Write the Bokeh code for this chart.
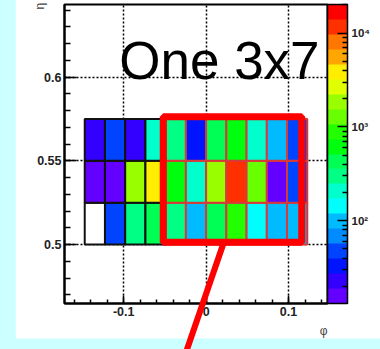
import math
import colorsys
import numpy as np
from bokeh.plotting import figure
from bokeh.models import (ColumnDataSource, LogColorMapper, ColorBar, FixedTicker,
                          CustomJSTickFormatter, Label, BoxAnnotation, Range1d)
from bokeh.embed import file_html
from bokeh.resources import INLINE

# ---------------- data ----------------
PHI_BIN_W = 2 * math.pi / 256          # phi bin width
phi_bin_index = [-6, -5, -4, -3, -2, -1, 0, 1, 2, 3, 4]   # low edge = index * width
eta_low = [0.500, 0.525, 0.550]        # eta row low edges
ETA_W = 0.025

counts_eta_0500 = [np.nan, 48, 295, 420, 300, 99, 440, 890, 140, 97, 100]
counts_eta_0525 = [16, 15, 1850, 3900, 620, 205, 1900, 11600, 1300, 16, 47]
counts_eta_0550 = [23, 46, 22, 210, 300, 33, 430, 615, 205, 98, 48]

x_ticks = [-0.1, 0.0, 0.1]
y_ticks = [0.5, 0.55, 0.6]
z_ticks = [100, 1000, 10000]
Z_LOW, Z_HIGH = 13.1, 20200.0
N_LEVELS = 20
INSIDE_BOX_FIRST_COL = 4

# ---------------- palette (ROOT "pretty" palette, 20 contours) ----------------
def root_palette(n_levels, n_colors=50):
    cols = []
    for j in range(n_levels):
        i = int((j + 0.99) * n_colors / n_levels)
        hue = 280.0 - (i + 1) * 280.0 / n_colors
        r, g, b = colorsys.hls_to_rgb(hue / 360.0, 0.5, 1.0)
        cols.append("#%02x%02x%02x" % (round(r * 255), round(g * 255), round(b * 255)))
    return cols

palette = root_palette(N_LEVELS)

# ---------------- cells ----------------
rows = [counts_eta_0500, counts_eta_0525, counts_eta_0550]
left, right, bottom, top, cnt, border = [], [], [], [], [], []
for eta, row in zip(eta_low, rows):
    for c, (k, v) in enumerate(zip(phi_bin_index, row)):
        left.append(k * PHI_BIN_W)
        right.append((k + 1) * PHI_BIN_W)
        bottom.append(eta)
        top.append(eta + ETA_W)
        cnt.append(v)
        border.append("#d63a3a" if c >= INSIDE_BOX_FIRST_COL else "#111111")

src = ColumnDataSource(dict(left=left, right=right, bottom=bottom, top=top,
                            count=np.array(cnt, dtype=float), border=border))

mapper = LogColorMapper(palette=palette, low=Z_LOW, high=Z_HIGH, nan_color="white")

FONT = "Liberation Sans"

p = figure(width=380, height=349,
           x_range=Range1d(-7 * PHI_BIN_W, 6 * PHI_BIN_W),
           y_range=Range1d(0.4648, 0.6434),
           output_backend="svg", toolbar_location=None,
           min_border_left=64, min_border_right=51,
           min_border_top=4, min_border_bottom=46,
           border_fill_color="white", background_fill_color="white")
p.outline_line_color = "black"
p.outline_line_width = 2

# axes
for ax in (p.xaxis[0], p.yaxis[0]):
    ax.axis_line_width = 2
    ax.axis_line_color = "black"
    ax.major_tick_out = 0
    ax.minor_tick_out = 0
    ax.major_tick_line_width = 1.5
    ax.minor_tick_line_width = 1.5
    ax.major_tick_line_color = "black"
    ax.minor_tick_line_color = "black"
    ax.major_label_text_font = FONT
    ax.major_label_text_font_style = "bold"
    ax.major_label_text_font_size = "12.5px"
    ax.major_label_text_color = "#222222"
    ax.major_label_standoff = 3
    ax.formatter = CustomJSTickFormatter(code="return String(tick);")

x_minor = [round(-0.16 + 0.02 * i, 2) for i in range(16)]
y_minor = [round(0.47 + 0.01 * i, 2) for i in range(18)]
p.xaxis[0].ticker = FixedTicker(ticks=x_ticks, minor_ticks=x_minor)
p.yaxis[0].ticker = FixedTicker(ticks=y_ticks, minor_ticks=y_minor)
p.xaxis[0].major_tick_in = 8
p.xaxis[0].minor_tick_in = 4
p.yaxis[0].major_tick_in = 12
p.yaxis[0].minor_tick_in = 6

p.grid.grid_line_color = "black"
p.grid.grid_line_dash = "2 2"
p.grid.grid_line_width = 1.5

# cells
p.quad(left="left", right="right", bottom="bottom", top="top", source=src,
       fill_color={"field": "count", "transform": mapper},
       line_color="border", line_width=2)

# red highlight box
p.add_layout(BoxAnnotation(left=-0.0520, right=0.1160, bottom=0.5014, top=0.5763,
                           fill_alpha=0.0, line_color="#ff0000", line_alpha=1.0,
                           line_width=7))

# colour bar
z_minor = [m * 10 ** e for e in (1, 2, 3) for m in range(2, 10)] + [20000]
cb = ColorBar(color_mapper=mapper,
              ticker=FixedTicker(ticks=z_ticks, minor_ticks=z_minor),
              formatter=CustomJSTickFormatter(code="""
                  const s = {"1":"\u00b9","2":"\u00b2","3":"\u00b3","4":"\u2074","5":"\u2075"};
                  const e = Math.round(Math.log10(tick));
                  return "10" + (s[String(e)] || String(e));"""),
              width=20, padding=0, margin=0, location=(0, 0),
              label_standoff=4,
              major_tick_in=10, major_tick_out=0, minor_tick_in=5, minor_tick_out=0,
              major_tick_line_color="black", major_tick_line_width=1.5,
              minor_tick_line_color="black", minor_tick_line_width=1.5,
              bar_line_color="black", bar_line_width=1.5,
              major_label_text_font=FONT, major_label_text_font_style="bold",
              major_label_text_font_size="11.5px", major_label_text_color="#222222",
              background_fill_color="white", background_fill_alpha=1.0)
p.add_layout(cb, "right")

# big text
p.add_layout(Label(x=-0.1054, y=0.6097, text="One 3x7", text_font=FONT,
                   text_font_size="53px", text_color="black",
                   text_align="left", text_baseline="alphabetic"))

# ---- items outside the frame go into side panels (not clipped there) ----
# light-cyan slide background: left strip (left panel) and bottom strip (below panel)
p.add_layout(Label(x=-0.2309, y=0.6520, text=" ", text_font_size="1px",
                   text_align="right", text_baseline="top",
                   background_fill_color="#ccffff", background_fill_alpha=1.0,
                   padding=dict(left=16, right=0, top=0, bottom=400)), "left")
p.add_layout(Label(x=-0.2620, y=0.4439, text=" ", text_font_size="1px",
                   text_align="left", text_baseline="top",
                   background_fill_color="#ccffff", background_fill_alpha=1.0,
                   padding=dict(left=0, right=420, top=0, bottom=12)), "below")
# axis titles
p.add_layout(Label(x=6 * PHI_BIN_W, y=0.4482, text="\u03c6", text_font=FONT,
                   text_font_size="12px", text_color="#444444",
                   text_align="right", text_baseline="alphabetic"), "right")
p.add_layout(Label(x=-0.2010, y=0.6404, text="\u03b7", text_font=FONT, angle=math.pi / 2,
                   text_font_size="12px", text_color="#444444",
                   text_align="left", text_baseline="alphabetic"), "below")
# red pointer line from the box downwards (a thin rotated red bar)
p.add_layout(Label(x=0.0214, y=0.5012, text=" ", text_font_size="1px",
                   angle=-math.atan2(118.0, -40.6),
                   text_align="left", text_baseline="middle",
                   background_fill_color="#ff0000", background_fill_alpha=1.0,
                   padding=dict(left=0, right=130, top=3, bottom=2)), "below")

open("out.html", "w").write(file_html(p, INLINE))
